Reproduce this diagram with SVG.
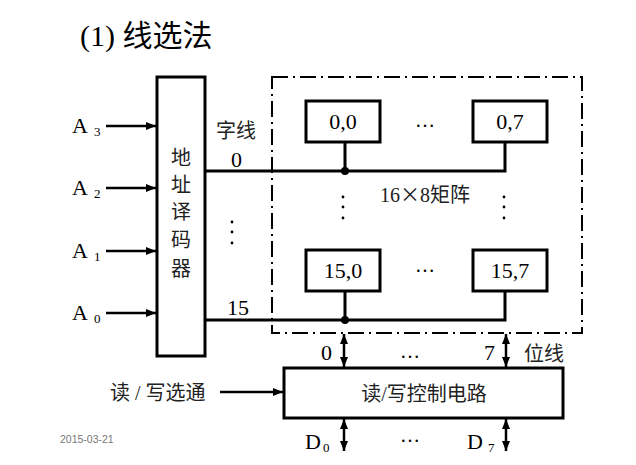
<svg xmlns="http://www.w3.org/2000/svg" width="636" height="465" viewBox="0 0 636 465">
<defs>
<marker id="ah" viewBox="0 0 10 10" refX="10" refY="5" markerWidth="10" markerHeight="10" markerUnits="userSpaceOnUse" orient="auto-start-reverse">
<path d="M0,1 L10,5 L0,9 z" fill="#000"/>
</marker>
<style>
.bx{fill:#fff;stroke:#000;stroke-width:3}
.ln{fill:none;stroke:#000;stroke-width:3}
.ar{fill:none;stroke:#000;stroke-width:2.5;marker-end:url(#ah)}
.dar{fill:none;stroke:#000;stroke-width:2.5;marker-end:url(#ah);marker-start:url(#ah)}
.lt{font-family:"Liberation Serif",serif;font-size:22px;fill:#000}
.sub{font-family:"Liberation Serif",serif;font-size:13px;fill:#000}
.cn{font-family:"Liberation Serif","Noto Sans CJK SC",serif;font-size:20px;fill:#222}
.dot{font-family:"Liberation Serif",serif;font-size:20px;fill:#000}
.vd{fill:#000}
</style>
</defs>
<rect width="636" height="465" fill="#fff"/>
<text x="80" y="46" style="font-family:'Liberation Serif','Noto Sans CJK SC',serif;font-size:30px;fill:#000">(1) 线选法</text>
<text x="60" y="443" style="font-family:'Liberation Sans',sans-serif;font-size:10.5px;fill:#777">2015-03-21</text>

<g id="frame">
<rect x="272" y="77" width="310" height="256" fill="none" stroke="#000" stroke-width="2" stroke-dasharray="16 5 2 5"/>
</g>

<g id="connectors">
<path class="ar" d="M106,126 H156"/>
<path class="ar" d="M106,188 H156"/>
<path class="ar" d="M106,251 H156"/>
<path class="ar" d="M106,313 H156"/>
<path class="ln" d="M205,171 H505 V142 M345,171 V142"/>
<path class="ln" d="M205,320 H505 V291 M345,320 V291"/>
<circle cx="345" cy="171" r="4" fill="#000"/>
<circle cx="345" cy="320" r="4" fill="#000"/>
<path class="dar" d="M344,334 V367"/>
<path class="dar" d="M506,334 V367"/>
<path class="dar" d="M344,419 V451"/>
<path class="dar" d="M506,419 V451"/>
<path class="ar" d="M220,392 H283"/>
</g>

<g id="inputs">
<text class="lt" x="72" y="133">A</text><text class="sub" x="94" y="136">3</text>
<text class="lt" x="72" y="195">A</text><text class="sub" x="94" y="198">2</text>
<text class="lt" x="72" y="258">A</text><text class="sub" x="94" y="261">1</text>
<text class="lt" x="72" y="320">A</text><text class="sub" x="94" y="323">0</text>
</g>

<g id="decoder">
<rect class="bx" x="157" y="77" width="48" height="279"/>
<g class="cn" text-anchor="middle">
<text x="181" y="165">地</text>
<text x="181" y="192">址</text>
<text x="181" y="219">译</text>
<text x="181" y="247">码</text>
<text x="181" y="276">器</text>
</g>
</g>

<g id="wordlabels">
<text class="cn" x="216" y="138">字线</text>
<text class="lt" x="231" y="167" font-size="20">0</text>
<circle class="vd" cx="232" cy="222" r="1.4"/><circle class="vd" cx="232" cy="232" r="1.4"/><circle class="vd" cx="232" cy="243" r="1.4"/>
<text class="lt" x="227" y="315" font-size="20">15</text>
</g>

<g id="c00"><rect class="bx" x="306" y="101" width="74" height="41"/><text class="lt" x="343" y="129" text-anchor="middle">0,0</text></g>
<g id="c07"><rect class="bx" x="473" y="101" width="74" height="41"/><text class="lt" x="510" y="129" text-anchor="middle">0,7</text></g>
<g id="c150"><rect class="bx" x="306" y="250" width="74" height="41"/><text class="lt" x="343" y="278" text-anchor="middle">15,0</text></g>
<g id="c157"><rect class="bx" x="473" y="250" width="74" height="41"/><text class="lt" x="510" y="278" text-anchor="middle">15,7</text></g>

<g id="matrixlabels">
<text class="dot" x="425" y="127" text-anchor="middle">…</text>
<text class="dot" x="425" y="272" text-anchor="middle">…</text>
<text class="cn" x="380" y="202" style="fill:#222">16<tspan style="font-family:'Noto Sans CJK SC',sans-serif">×</tspan>8矩阵</text>
<circle class="vd" cx="343" cy="197" r="1.4"/><circle class="vd" cx="343" cy="207" r="1.4"/><circle class="vd" cx="343" cy="218" r="1.4"/>
<circle class="vd" cx="504" cy="197" r="1.4"/><circle class="vd" cx="504" cy="207" r="1.4"/><circle class="vd" cx="504" cy="218" r="1.4"/>
</g>

<g id="rwctrl">
<rect class="bx" x="284" y="368" width="279" height="50"/>
<text class="cn" x="424" y="401" text-anchor="middle" font-size="22">读/写控制电路</text>
</g>

<g id="bottomlabels">
<text class="lt" x="321" y="360" font-size="20">0</text>
<text class="dot" x="410" y="358" text-anchor="middle">…</text>
<text class="lt" x="484" y="360" font-size="20">7</text>
<text class="cn" x="524" y="361">位线</text>
<text class="cn" x="110" y="400">读 / 写选通</text>
<text class="lt" x="305" y="449">D</text><text class="sub" x="323" y="452">0</text>
<text class="dot" x="410" y="442" text-anchor="middle">…</text>
<text class="lt" x="467" y="449">D</text><text class="sub" x="488" y="452">7</text>
</g>
</svg>
